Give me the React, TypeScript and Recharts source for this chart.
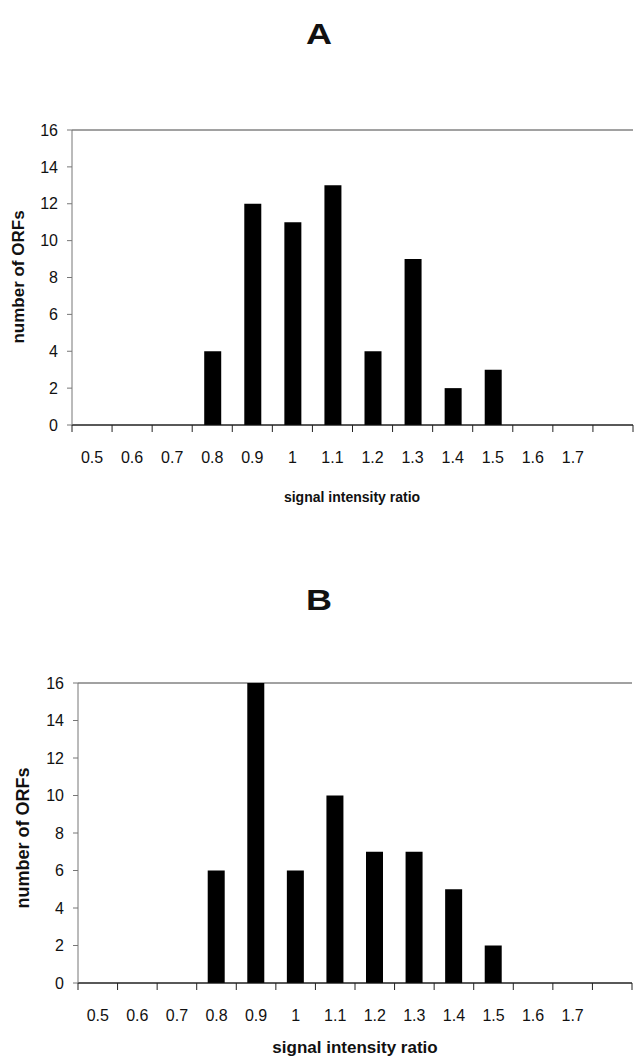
import { Bar, BarChart, CartesianGrid, XAxis, YAxis } from 'recharts'

const RATIO_LABELS = ['0.5', '0.6', '0.7', '0.8', '0.9', '1', '1.1', '1.2', '1.3', '1.4', '1.5', '1.6', '1.7', '']
const COUNTS_A = [0, 0, 0, 4, 12, 11, 13, 4, 9, 2, 3, 0, 0, 0]
const COUNTS_B = [0, 0, 0, 6, 16, 6, 10, 7, 7, 5, 2, 0, 0, 0]
const Y_TICKS = [0, 2, 4, 6, 8, 10, 12, 14, 16]

const FONT = '"Liberation Sans", Arial, sans-serif'

const toRows = (counts: number[]) => RATIO_LABELS.map((label, i) => ({ label, value: counts[i] }))

// category ticks sit between the bars, labels in the middle (Excel style)
function RatioTick(props: any) {
  const { x, y, payload, index, visibleTicksCount } = props
  const half = payload.offset ?? 0
  return (
    <g>
      <line x1={x - half} x2={x - half} y1={y} y2={y + 7} stroke="#222" />
      {index === visibleTicksCount - 1 && <line x1={x + half} x2={x + half} y1={y} y2={y + 7} stroke="#222" />}
      <text x={x} y={y + 38} textAnchor="middle" fontSize={16} fill="#111" fontFamily={FONT}>
        {payload.value}
      </text>
    </g>
  )
}

interface PanelProps {
  counts: number[]
  height: number
  top: number
  bottom: number
  axisWidth: number
  right: number
}

function Histogram({ counts, height, top, bottom, axisWidth, right }: PanelProps) {
  return (
    <BarChart
      width={635}
      height={height}
      data={toRows(counts)}
      margin={{ top, right, bottom, left: 0 }}
      barSize={17}
    >
      <CartesianGrid vertical={false} stroke="#444" />
      <XAxis
        dataKey="label"
        height={40}
        interval={0}
        tickSize={0}
        tickMargin={0}
        tickLine={false}
        stroke="#111"
        tick={<RatioTick />}
      />
      <YAxis
        yAxisId="left"
        width={axisWidth}
        domain={[0, 16]}
        ticks={Y_TICKS}
        tickSize={5}
        tickMargin={9}
        stroke="#777"
        tick={{ fill: '#111', fontSize: 16, fontFamily: FONT }}
      />
      <YAxis yAxisId="right" orientation="right" width={0} domain={[0, 16]} tick={false} tickLine={false} stroke="#999" />
      <Bar yAxisId="left" dataKey="value" fill="#000" isAnimationActive={false} />
    </BarChart>
  )
}

const textBase = { position: 'absolute' as const, fontFamily: FONT, color: '#111', whiteSpace: 'nowrap' as const }

function Title({ text, x, y }: { text: string; x: number; y: number }) {
  return (
    <div style={{ ...textBase, left: x, top: y, fontSize: 30, fontWeight: 900, transform: 'translate(-50%, -50%) scaleX(1.2)' }}>
      {text}
    </div>
  )
}

function YTitle({ x, y, size }: { x: number; y: number; size: number }) {
  return (
    <div style={{ ...textBase, left: x, top: y, fontSize: size, fontWeight: 700, transform: 'translate(-50%, -50%) rotate(-90deg)' }}>
      number of ORFs
    </div>
  )
}

function XTitle({ x, y, size }: { x: number; y: number; size: number }) {
  return (
    <div style={{ ...textBase, left: x, top: y, fontSize: size, fontWeight: 700, transform: 'translate(-50%, -50%)' }}>
      signal intensity ratio
    </div>
  )
}

export default function App() {
  return (
    <div style={{ position: 'absolute', left: 0, top: 0, width: 635, height: 1060, background: '#fff', overflow: 'hidden' }}>
      <Title text="A" x={319} y={34} />
      <div style={{ position: 'absolute', left: 0, top: 0 }}>
        <Histogram counts={COUNTS_A} height={520} top={130} bottom={55} axisWidth={72} right={2} />
      </div>
      <YTitle x={19} y={277} size={17} />
      <XTitle x={352} y={497} size={14} />

      <Title text="B" x={319} y={600} />
      <div style={{ position: 'absolute', left: 0, top: 550 }}>
        <Histogram counts={COUNTS_B} height={510} top={133} bottom={37} axisWidth={78} right={3} />
      </div>
      <YTitle x={23} y={838} size={18} />
      <XTitle x={355} y={1048} size={17} />
    </div>
  )
}
